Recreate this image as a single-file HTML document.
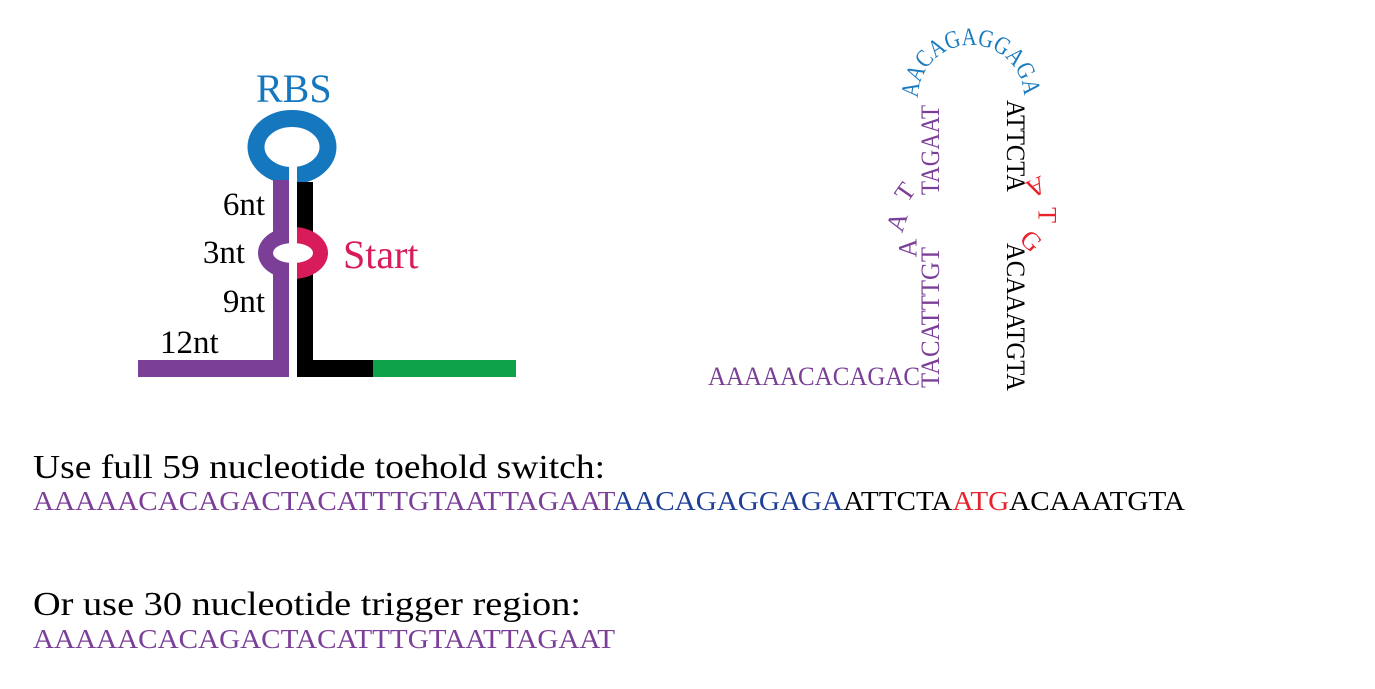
<!DOCTYPE html>
<html><head><meta charset="utf-8"><style>
html,body{margin:0;padding:0;background:#fff;}
svg{display:block;font-family:"Liberation Serif",serif;}
</style></head><body>
<svg width="1375" height="689" viewBox="0 0 1375 689">
<defs>
  <clipPath id="cl"><rect x="0" y="200" width="289" height="100"/></clipPath>
  <clipPath id="cr"><rect x="297" y="200" width="100" height="100"/></clipPath>
  <path id="ring" d="M258,253 A35,26 0 1 0 328,253 A35,26 0 1 0 258,253 Z M273,253 A20,10 0 1 1 313,253 A20,10 0 1 1 273,253 Z" fill-rule="evenodd"/>
</defs>
<g>
  <text x="256" y="102" font-size="40" fill="#1577be">RBS</text>
  <ellipse cx="292" cy="147" rx="36" ry="28.5" fill="none" stroke="#1577be" stroke-width="17"/>
  <rect x="289" y="165" width="8" height="25" fill="#fff"/>
  <rect x="273" y="180" width="16" height="197" fill="#7b3f98"/>
  <rect x="297" y="182" width="16" height="195" fill="#000"/>
  <rect x="138" y="360" width="151" height="17" fill="#7b3f98"/>
  <rect x="297" y="360" width="76" height="17" fill="#000"/>
  <rect x="373" y="360" width="143" height="17" fill="#0ea34a"/>
  <rect x="270" y="240" width="46" height="26" fill="#fff"/>
  <use href="#ring" fill="#7b3f98" clip-path="url(#cl)"/>
  <use href="#ring" fill="#d81b5a" clip-path="url(#cr)"/>
  <text x="265" y="215" font-size="33" text-anchor="end">6nt</text>
  <text x="245" y="263" font-size="33" text-anchor="end">3nt</text>
  <text x="265" y="312" font-size="33" text-anchor="end">9nt</text>
  <text x="160" y="353" font-size="33">12nt</text>
  <text x="343" y="268" font-size="40" fill="#d81b5a">Start</text>
</g>
<g font-size="26">
  <text x="708" y="385" fill="#7b3f98" textLength="212" lengthAdjust="spacingAndGlyphs">AAAAACACAGAC</text>
  <text transform="translate(939,388) rotate(-90)" fill="#7b3f98" textLength="141" lengthAdjust="spacingAndGlyphs">TACATTTGT</text>
  <text transform="translate(939,195) rotate(-90)" fill="#7b3f98" textLength="90" lengthAdjust="spacingAndGlyphs">TAGAAT</text>
  <g font-size="26" text-anchor="middle" dominant-baseline="central">
    <text transform="translate(908,248) rotate(-90)" fill="#7b3f98">A</text>
    <text transform="translate(897,222) rotate(-72)" fill="#7b3f98">A</text>
    <text transform="translate(905,192) rotate(-55)" fill="#7b3f98">T</text>
    <text transform="translate(1036,187) rotate(155)" fill="#e8222a">A</text>
    <text transform="translate(1047,215) rotate(90)" fill="#e8222a">T</text>
    <text transform="translate(1031,241) rotate(45)" fill="#e8222a">G</text>
  </g>
  <path id="arc" d="M918,98 A53,53 0 0 1 1024,98" fill="none"/>
  <text fill="#1a7abf" font-size="25"><textPath href="#arc" textLength="164" lengthAdjust="spacingAndGlyphs">AACAGAGGAGA</textPath></text>
  <text transform="translate(1007,100) rotate(90)" fill="#000" textLength="92" lengthAdjust="spacingAndGlyphs">ATTCTA</text>
  <text transform="translate(1007,243) rotate(90)" fill="#000" textLength="148" lengthAdjust="spacingAndGlyphs">ACAAATGTA</text>
</g>
<text x="33" y="478" font-size="34" textLength="572" lengthAdjust="spacingAndGlyphs">Use full 59 nucleotide toehold switch:</text>
<text x="33" y="510" font-size="27" textLength="1152" lengthAdjust="spacingAndGlyphs"><tspan fill="#7b3f98">AAAAACACAGACTACATTTGTAATTAGAAT</tspan><tspan fill="#1f3f99">AACAGAGGAGA</tspan><tspan fill="#000">ATTCTA</tspan><tspan fill="#e8222a">ATG</tspan><tspan fill="#000">ACAAATGTA</tspan></text>
<text x="33" y="615" font-size="34" textLength="548" lengthAdjust="spacingAndGlyphs">Or use 30 nucleotide trigger region:</text>
<text x="33" y="648" font-size="27" fill="#7b3f98" textLength="582" lengthAdjust="spacingAndGlyphs">AAAAACACAGACTACATTTGTAATTAGAAT</text>
</svg>
</body></html>
